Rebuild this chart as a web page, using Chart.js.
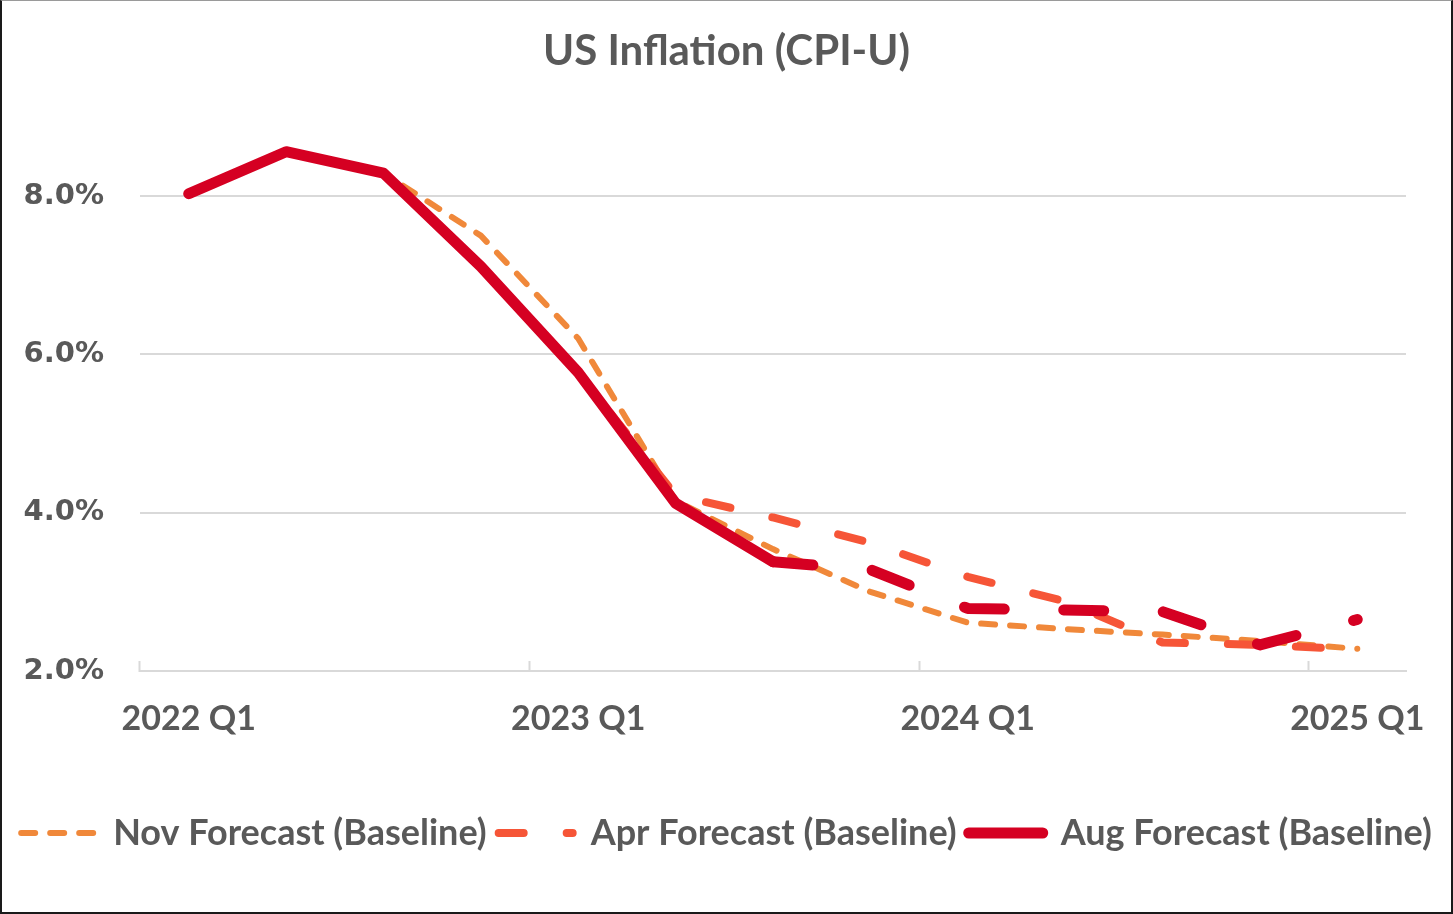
<!DOCTYPE html>
<html>
<head>
<meta charset="utf-8">
<title>US Inflation (CPI-U)</title>
<script src="https://cdn.jsdelivr.net/npm/chart.js@4.4.1/dist/chart.umd.min.js"></script>
<style>
  html, body { margin: 0; padding: 0; background: #fff; }
  .frame {
    width: 1449px;
    height: 911px;
    border-top: 1px solid #9a9a9a;
    border-left: 2px solid #1a1a1a;
    border-right: 2px solid #1a1a1a;
    border-bottom: 2px solid #1a1a1a;
  }
  canvas { display: block; }
</style>
</head>
<body>
<div class="frame"><canvas id="cpiChart" width="1449" height="911"></canvas></div>
<script>
// Year-over-year CPI-U, %
const quarters = [
    '2022 Q1', '2022 Q2', '2022 Q3', '2022 Q4',
    '2023 Q1', '2023 Q2', '2023 Q3', '2023 Q4',
    '2024 Q1', '2024 Q2', '2024 Q3', '2024 Q4',
    '2025 Q1'
];
const novForecast = [8.03, 8.56, 8.29, 7.50, 6.20, 4.15, 3.54, 3.00, 2.61, 2.53, 2.46, 2.38, 2.28];
const aprForecast = [8.03, 8.56, 8.29, 7.11, 5.77, 4.22, 3.94, 3.62, 3.19, 2.88, 2.36, 2.33, 2.27];
const augForecast = [8.03, 8.56, 8.29, 7.11, 5.77, 4.12, 3.38, 3.28, 2.79, 2.77, 2.75, 2.33, 2.65];
const yTickValues = [2, 4, 6, 8];

// first point of the dashed (projected) part of the Aug line
const AUG_DASH_FROM = 6;

const TEXT_GRAY = '#595959';
const GRID_GRAY = '#d9d9d9';

// legend samples: take width / dash from the dataset line, not from its points
function lineLegendLabels(chart) {
    const base = Chart.defaults.plugins.legend.labels.generateLabels(chart);
    return base.map(item => {
        const ds = chart.data.datasets[item.datasetIndex];
        return {
            ...item,
            pointStyle: 'line',
            strokeStyle: ds.borderColor,
            fillStyle: ds.borderColor,
            lineWidth: ds.borderWidth,
            lineDash: ds.borderDash || [],
            lineDashOffset: 0,
            lineCap: 'round'
        };
    });
}

const ctx = document.getElementById('cpiChart').getContext('2d');

new Chart(ctx, {
    type: 'line',
    data: {
        labels: quarters,
        datasets: [
            {
                label: 'Nov Forecast (Baseline)',
                data: novForecast,
                borderColor: '#f0883a',
                backgroundColor: '#f0883a',
                borderWidth: 6,
                borderDash: [14, 15],
                borderDashOffset: 3,
                borderCapStyle: 'round',
                borderJoinStyle: 'round',
                pointRadius: 0,
                order: 3
            },
            {
                label: 'Apr Forecast (Baseline)',
                data: aprForecast,
                borderColor: '#f65537',
                backgroundColor: '#f65537',
                borderWidth: 8,
                borderDash: [25, 43],
                borderDashOffset: 7.5,
                borderCapStyle: 'round',
                borderJoinStyle: 'round',
                pointRadius: 0,
                order: 2
            },
            {
                label: 'Aug Forecast (Baseline)',
                data: augForecast,
                borderColor: '#d50022',
                backgroundColor: '#d50022',
                borderWidth: 11,
                borderCapStyle: 'round',
                borderJoinStyle: 'round',
                pointRadius: 0,
                order: 1,
                segment: {
                    borderDash: c => (c.p0DataIndex >= AUG_DASH_FROM ? [40, 59.5] : undefined)
                }
            }
        ]
    },
    options: {
        responsive: false,
        animation: false,
        devicePixelRatio: 1,
        layout: {
            padding: { left: 0, right: 0, top: 0, bottom: 51 }
        },
        plugins: {
            title: {
                display: true,
                text: 'US Inflation (CPI-U)',
                color: TEXT_GRAY,
                font: { family: 'Lato', weight: 'bold', size: 42 },
                padding: { top: 25.5, bottom: 40 }
            },
            legend: {
                position: 'bottom',
                labels: {
                    usePointStyle: true,
                    pointStyle: 'line',
                    pointStyleWidth: 74,
                    padding: 12,
                    color: TEXT_GRAY,
                    font: { family: 'Lato', weight: 'bold', size: 36 },
                    generateLabels: lineLegendLabels,
                    sort: (a, b) => a.datasetIndex - b.datasetIndex
                }
            },
            tooltip: { enabled: false }
        },
        scales: {
            x: {
                type: 'category',
                offset: true,
                afterFit: s => {
                    s.height = 132;
                    s.paddingLeft = 0;
                    s.paddingRight = 0;
                },
                grid: {
                    offset: true,
                    drawOnChartArea: false,
                    drawTicks: true,
                    tickLength: -10,
                    tickWidth: 2,
                    tickColor: c => (c.index % 4 === 0 ? GRID_GRAY : 'rgba(0,0,0,0)')
                },
                border: { display: true, color: GRID_GRAY, width: 2 },
                ticks: {
                    autoSkip: false,
                    maxRotation: 0,
                    padding: 37.6,
                    color: TEXT_GRAY,
                    font: { family: 'Lato', weight: 'bold', size: 34 },
                    callback: function (value, index) {
                        return index % 4 === 0 ? this.getLabelForValue(value) : '';
                    }
                }
            },
            y: {
                min: 2,
                max: 9,
                afterFit: s => { s.width = 138; },
                afterBuildTicks: s => { s.ticks = yTickValues.map(v => ({ value: v })); },
                grid: { color: GRID_GRAY, lineWidth: 2, drawTicks: false },
                border: { display: false },
                ticks: {
                    padding: 36,
                    color: TEXT_GRAY,
                    font: { family: 'DejaVu Sans', weight: 'bold', size: 29 },
                    callback: v => v.toFixed(1) + '%'
                }
            },
            yPad: {
                position: 'right',
                display: true,
                afterFit: s => { s.width = 45; },
                grid: { display: false },
                border: { display: false },
                ticks: { display: false }
            }
        }
    }
});
</script>
</body>
</html>
